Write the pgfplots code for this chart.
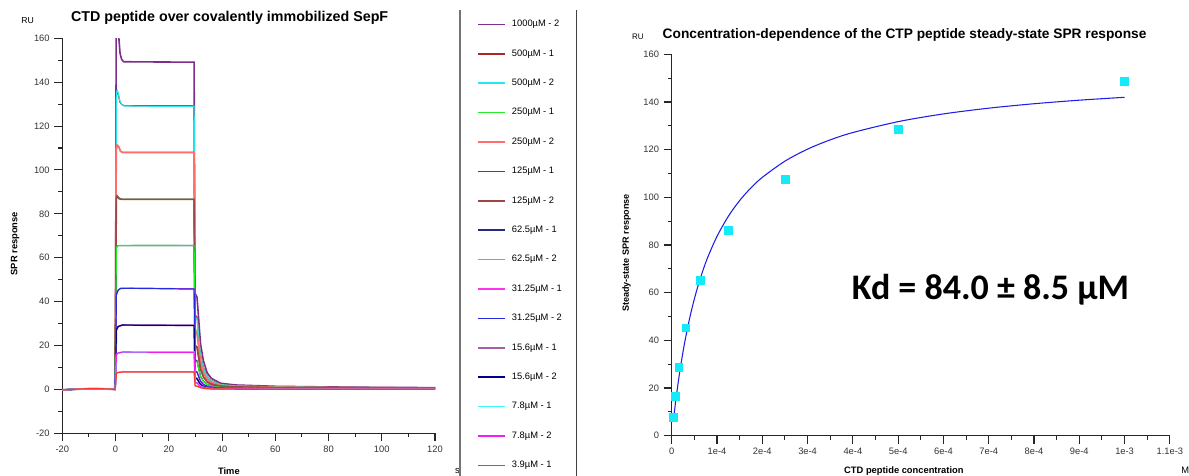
\documentclass[border=0pt]{standalone}
\usepackage{fontspec}
\setmainfont{Liberation Sans}
\newfontfamily\carlito{Carlito}
\usepackage{pgfplots}
\pgfplotsset{compat=1.18}
\definecolor{cA}{RGB}{125,45,140}
\definecolor{cB}{RGB}{170,40,40}
\definecolor{cC}{RGB}{40,230,240}
\definecolor{cD}{RGB}{40,235,40}
\definecolor{cE}{RGB}{255,110,110}
\definecolor{cF}{RGB}{0,130,0}
\definecolor{cG}{RGB}{160,70,70}
\definecolor{cH}{RGB}{40,40,130}
\definecolor{cI}{RGB}{30,240,30}
\definecolor{cJ}{RGB}{255,50,240}
\definecolor{cK}{RGB}{40,40,220}
\definecolor{cL}{RGB}{165,95,170}
\definecolor{cM}{RGB}{0,0,140}
\definecolor{cN}{RGB}{60,250,250}
\definecolor{cO}{RGB}{240,30,240}
\definecolor{cP}{RGB}{255,50,50}
\definecolor{cQ}{RGB}{170,170,170}
\definecolor{ptc}{RGB}{20,235,250}
\definecolor{fitc}{RGB}{30,30,230}
\begin{document}
\begin{tikzpicture}
\useasboundingbox (0,0) rectangle (891.75pt,356.25pt);
\begin{axis}[
  at={(46.75pt,31.3pt)}, anchor=south west,
  scale only axis, width=279.5pt, height=296.25pt,
  xmin=-20, xmax=120, ymin=-20, ymax=160,
  axis lines=left, axis line style={-, line width=0.8pt, black!85},
  xtick={-20,0,...,120}, ytick={-20,0,...,160},
  minor x tick num=1, minor y tick num=1,
  tick align=outside, major tick length=6pt, minor tick length=3pt,
  tick style={line width=0.8pt, black!85},
  tick label style={font=\fontsize{7}{8}\selectfont, text=black!80},
  /pgf/number format/assume math mode=true,
  every axis plot/.append style={line width=0.9pt},
  legend style={at={(1.112,1.05)}, anchor=north west, draw=none, fill=none,
    inner sep=0pt, row sep=13.55pt, column sep=3.3pt,
    font=\fontsize{7}{8}\selectfont,
    nodes={inner sep=1pt, text height=5pt, text depth=1.5pt}},
  legend cell align=left,
  legend image code/.code={\draw[#1, line width=1.2pt] (0pt,0pt) -- (20.7pt,0pt);},
  extra description/.code={
    \node[font=\bfseries\fontsize{10.7}{12}\selectfont] at (0.449,1.051) {CTD peptide over covalently immobilized SepF};
    \node[font=\fontsize{6.5}{7}\selectfont] at (-0.093,1.046) {RU};
    \node[font=\fontsize{7}{8}\selectfont] at (1.06,-0.095) {s};
    \node[font=\bfseries\fontsize{7}{8}\selectfont] at (0.447,-0.095) {Time};
    \node[font=\bfseries\fontsize{7}{8}\selectfont, rotate=90] at (-0.127,0.48) {SPR response};
  },
]
\addplot[cA, line width=1.2pt] coordinates {(-20,-0.3) (-14,0.2) (-8,0.3) (-2,0.2) (-0.3,0) (0,20) (0.25,185) (0.7,172) (1.24,160) (1.7,153) (2.3,150.3) (3.1,149.3) (15,149.2) (29.5,149.1) (29.8,44) (30.6,42) (31.9,21) (33,13) (34.4,7.6) (36,5) (39.4,2.8) (45,2) (60,1.4) (80,1.1) (100,0.9) (120,0.8)};
\addlegendentry{1000µM - 2}
\addplot[cB] coordinates {(-20,-0.3) (-14,0.2) (-8,0.3) (-2,0.2) (-0.3,0) (0,40) (0.3,134) (0.6,135.6) (1.0,134.5) (1.6,131) (2.3,129.8) (3.2,129.3) (29.5,129.2) (29.8,34) (30.6,33) (31.9,16) (33,10) (34.4,6) (36,4) (39.4,2.3) (45,1.7) (60,1.2) (80,1.0) (120,0.7)};
\addlegendentry{500µM - 1}
\addplot[cC] coordinates {(-20,-0.2) (-14,0.1) (-8,0.2) (-2,0.1) (-0.3,0) (0,40) (0.3,135) (0.6,136.2) (1.0,135) (1.6,131.5) (2.3,129.8) (3.2,129.1) (29.5,129.0) (29.9,33) (30.6,32) (31.9,15.5) (33,9.5) (34.4,5.8) (36,3.9) (39.4,2.2) (45,1.6) (60,1.2) (80,0.9) (120,0.7)};
\addlegendentry{500µM - 2}
\addplot[cD] coordinates {(-20,-0.3) (-14,0.2) (-8,0.3) (-2,0.2) (-0.3,0) (0,40) (0.25,109) (0.6,111) (1.2,110.3) (1.8,108.7) (2.6,108.1) (29.5,108.1) (29.9,27) (30.6,26.5) (31.9,13) (33,8) (34.4,4.8) (36,3.2) (39.4,1.9) (45,1.4) (60,1.0) (80,0.8) (120,0.6)};
\addlegendentry{250µM - 1}
\addplot[cE, line width=1.3pt] coordinates {(-20,-0.2) (-14,0.1) (-8,0.2) (-2,0.1) (-0.3,0) (0,40) (0.25,109.5) (0.6,111.3) (1.2,110.6) (1.8,108.6) (2.6,107.9) (29.5,107.9) (29.9,26) (30.6,25.5) (31.9,12.5) (33,7.6) (34.4,4.6) (36,3.1) (39.4,1.8) (45,1.3) (60,1.0) (80,0.8) (120,0.6)};
\addlegendentry{250µM - 2}
\addplot[cF] coordinates {(-20,-0.3) (-14,0.2) (-8,0.3) (-2,0.2) (-0.3,0) (0,30) (0.3,87) (0.6,88.2) (1.3,87.2) (2.2,86.7) (29.5,86.7) (29.9,20) (30.6,19.5) (31.9,9.5) (33,5.8) (34.4,3.5) (36,2.4) (39.4,1.5) (45,1.1) (60,0.8) (80,0.6) (120,0.5)};
\addlegendentry{125µM - 1}
\addplot[cG, line width=1.2pt] coordinates {(-20,-0.2) (-14,0.1) (-8,0.2) (-2,0.1) (-0.3,0) (0,30) (0.3,87.3) (0.6,88) (1.3,86.9) (2.2,86.6) (29.5,86.6) (29.9,19.5) (30.6,19) (31.9,9.2) (33,5.6) (34.4,3.4) (36,2.3) (39.4,1.4) (45,1.0) (60,0.8) (80,0.6) (120,0.5)};
\addlegendentry{125µM - 2}
\addplot[cH] coordinates {(-20,-0.3) (-14,0.2) (-8,0.3) (-2,0.2) (-0.3,0) (0,20) (0.3,64.6) (0.8,65.5) (29.5,65.6) (29.9,13.5) (30.6,13) (31.9,6) (33,3.7) (34.4,2.3) (36,1.6) (39.4,1.0) (45,0.8) (60,0.6) (80,0.5) (120,0.4)};
\addlegendentry{62.5µM - 1}
\addplot[cI] coordinates {(-20,-0.2) (-14,0.1) (-8,0.2) (-2,0.1) (-0.3,0) (0,20) (0.3,64.8) (0.8,65.6) (29.5,65.5) (29.9,13) (30.6,12.5) (31.9,5.8) (33,3.6) (34.4,2.2) (36,1.5) (39.4,1.0) (45,0.8) (60,0.6) (80,0.5) (120,0.4)};
\addlegendentry{62.5µM - 2}
\addplot[cJ] coordinates {(-20,-0.3) (-14,0.2) (-8,0.3) (-2,0.2) (-0.3,0) (0,10) (0.3,43) (1,45.2) (2,46) (10,46.1) (29.5,45.8) (29.9,8.5) (30.6,8) (31.9,3.8) (33,2.3) (34.4,1.5) (36,1.1) (39.4,0.7) (45,0.6) (60,0.5) (80,0.4) (120,0.3)};
\addlegendentry{31.25µM - 1}
\addplot[cK] coordinates {(-20,-0.2) (-14,0.1) (-8,0.2) (-2,0.1) (-0.3,0) (0,10) (0.3,43.2) (1,45.3) (2,46.1) (10,46.0) (29.5,45.7) (29.9,8.2) (30.6,7.8) (31.9,3.7) (33,2.2) (34.4,1.4) (36,1.0) (39.4,0.7) (45,0.6) (60,0.5) (80,0.4) (120,0.3)};
\addlegendentry{31.25µM - 2}
\addplot[cL, line width=1.3pt] coordinates {(-20,-0.3) (-14,0.2) (-8,0.3) (-2,0.2) (-0.3,0) (0,5) (0.3,27) (1,28.6) (2.5,29.3) (29.5,29.2) (29.9,5.3) (30.6,5) (31.9,2.3) (33,1.4) (34.4,0.9) (36,0.7) (39.4,0.5) (45,0.4) (60,0.3) (80,0.3) (120,0.2)};
\addlegendentry{15.6µM - 1}
\addplot[cM] coordinates {(-20,-0.2) (-14,0.1) (-8,0.2) (-2,0.1) (-0.3,0) (0,5) (0.3,27.2) (1,28.7) (2.5,29.3) (29.5,29.1) (29.9,5.1) (30.6,4.8) (31.9,2.2) (33,1.4) (34.4,0.9) (36,0.7) (39.4,0.5) (45,0.4) (60,0.3) (80,0.3) (120,0.2)};
\addlegendentry{15.6µM - 2}
\addplot[cN, line width=1.2pt] coordinates {(-20,-0.3) (-14,0.2) (-8,0.3) (-2,0.2) (-0.3,0) (0,3) (0.3,15.7) (1,16.5) (2.5,16.9) (29.5,16.9) (29.9,3.2) (30.6,3) (31.9,1.4) (33,0.9) (34.4,0.6) (36,0.4) (39.4,0.3) (45,0.3) (60,0.2) (120,0.2)};
\addlegendentry{7.8µM - 1}
\addplot[cO] coordinates {(-20,-0.2) (-14,0.1) (-8,0.2) (-2,0.1) (-0.3,0) (0,3) (0.3,15.9) (1,16.6) (2.5,17.0) (29.5,16.9) (29.9,3.1) (30.6,2.9) (31.9,1.3) (33,0.9) (34.4,0.6) (36,0.4) (39.4,0.3) (45,0.3) (60,0.2) (120,0.2)};
\addlegendentry{7.8µM - 2}
\addplot[cQ, forget plot] coordinates {(-20,-0.2) (-14,0.1) (-8,0.2) (-2,0.1) (-0.3,0) (0,1.5) (0.3,7.4) (1,7.8) (2.5,8.0) (29.5,8.0) (29.9,1.5) (30.6,1.4) (31.9,0.7) (33,0.5) (34.4,0.3) (36,0.2) (39.4,0.2) (45,0.1) (120,0.1)};
\addplot[cP] coordinates {(-20,-0.3) (-14,0.2) (-8,0.3) (-2,0.2) (-0.3,0) (0,1.5) (0.3,7.3) (1,7.7) (2.5,7.9) (29.5,7.9) (29.9,1.6) (30.6,1.5) (31.9,0.8) (33,0.5) (34.4,0.3) (36,0.2) (39.4,0.2) (45,0.1) (120,0.1)};
\addlegendentry{3.9µM - 1}
\end{axis}
\begin{axis}[
  at={(503.8pt,29.5pt)}, anchor=south west,
  scale only axis, width=373.6pt, height=286pt,
  xmin=0, xmax=0.0011, ymin=0, ymax=160, clip=false,
  axis lines=left, axis line style={-, line width=0.8pt, black!85},
  xtick={0,0.0001,0.0002,0.0003,0.0004,0.0005,0.0006,0.0007,0.0008,0.0009,0.001,0.0011},
  xticklabels={0,1e-4,2e-4,3e-4,4e-4,5e-4,6e-4,7e-4,8e-4,9e-4,1e-3,1.1e-3},
  scaled x ticks=false,
  ytick={0,20,...,160},
  minor x tick num=1, minor y tick num=1,
  tick align=outside, major tick length=6pt, minor tick length=3pt,
  tick style={line width=0.8pt, black!85},
  tick label style={font=\fontsize{7}{8}\selectfont, text=black!80},
  /pgf/number format/assume math mode=true,
  extra description/.code={
    \node[font=\bfseries\fontsize{10.3}{12}\selectfont] at (0.4675,1.0506) {Concentration-dependence of the CTP peptide steady-state SPR response};
    \node[font=\fontsize{6}{7}\selectfont] at (-0.068,1.045) {RU};
    \node[font=\fontsize{7}{8}\selectfont] at (1.031,-0.092) {M};
    \node[font=\bfseries\fontsize{7}{8}\selectfont] at (0.466,-0.092) {CTD peptide concentration};
    \node[font=\bfseries\fontsize{6.8}{8}\selectfont, rotate=90] at (-0.091,0.479) {Steady-state SPR response};
    \node[font=\carlito\bfseries\fontsize{27}{30}\selectfont] at (0.640,0.382) {Kd = 84.0 ± 8.5 µM};
  },
]
\addplot[fitc, line width=0.8pt, smooth] coordinates {(3.9e-6,6.83) (5e-6,8.65) (7.8e-6,13.08) (1e-5,16.37) (1.5e-5,23.32) (2e-5,29.6) (2.5e-5,35.3) (3e-5,40.5) (4e-5,49.65) (5e-5,57.4) (6e-5,64.13) (7e-5,69.95) (8e-5,75.07) (1e-4,83.64) (1.25e-4,92.05) (1.5e-4,98.65) (1.75e-4,104.0) (2e-4,108.38) (2.5e-4,115.19) (3e-4,120.23) (3.5e-4,124.11) (4e-4,127.19) (5e-4,131.76) (6e-4,135.0) (7e-4,137.41) (8e-4,139.27) (9e-4,140.76) (1e-3,141.97)};
\addplot[only marks, mark=square*, mark size=2.9pt, ptc] coordinates {(3.9e-6,7.7) (7.8e-6,16.5) (1.56e-5,28.7) (3.125e-5,45.3) (6.25e-5,65.2) (1.25e-4,86.2) (2.5e-4,107.6) (5e-4,128.6) (1e-3,148.8)};
\end{axis}
\draw[black!55, line width=1.2pt] (345pt,348.75pt) -- (345pt,-5pt);
\draw[black!75, line width=1pt] (432.5pt,348.75pt) -- (432.5pt,-5pt);
\end{tikzpicture}
\end{document}
